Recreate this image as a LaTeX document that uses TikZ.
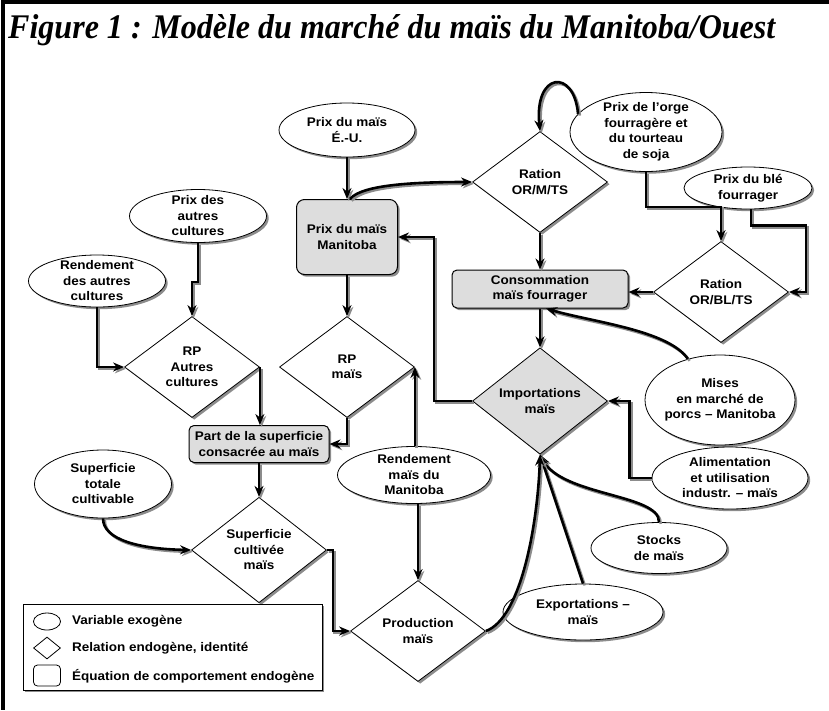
\documentclass[tikz,border=0pt]{standalone}
\usepackage{fontspec}
\newfontfamily\nodefont{Liberation Sans}[FakeStretch=1.08]
\newfontfamily\titlefont{Liberation Serif}
\usetikzlibrary{shapes.geometric, arrows.meta, shadows}
\definecolor{boxgray}{HTML}{DDDDDD}
\definecolor{shadgray}{HTML}{8C8C8C}
\tikzset{
 txt/.style={font=\nodefont\bfseries\fontsize{12.5}{15.5}\selectfont, align=center, inner sep=0pt},
 shad/.style={drop shadow={shadow xshift=2.2pt, shadow yshift=-2.2pt, fill=shadgray, opacity=1}},
 exo/.style={ellipse, draw, fill=white, line width=0.8pt, inner sep=0pt, shad},
 rel/.style={diamond, draw, fill=white, line width=0.8pt, inner sep=0pt, minimum width=135pt, minimum height=101pt, shad, txt},
 eqn/.style={rectangle, rounded corners=5pt, draw, fill=boxgray, line width=1pt, inner sep=0pt, shad, txt},
 conn/.style={line width=2.6pt, -{Stealth[length=11pt,width=9pt]},
   preaction={draw=shadgray, line width=2.6pt, transform canvas={shift={(1.8pt,-1.8pt)}}}},
 legtxt/.style={txt, anchor=west},
 frameline/.style={line width=4pt, draw=black},
}
\begin{document}
\begin{tikzpicture}[x=1pt, y=-1pt]
\useasboundingbox (0,0) rectangle (829,710);
% frame
\coordinate (fr1) at (829,2);
\coordinate (fr2) at (3,2);
\coordinate (fr3) at (3,710);
\draw[frameline] (fr1) -- (fr2) -- (fr3);
% title
\node[anchor=base west, inner sep=0pt] (title) at (8,38)
  {\resizebox{767pt}{24pt}{\titlefont\bfseries\itshape Figure 1 : Modèle du marché du maïs du Manitoba/Ouest}};

% exogenous variables
\node[exo, minimum width=136pt, minimum height=54pt, label={[txt]center:{Prix du maïs\\É.-U.}}] (usp) at (347,130) {};
\node[exo, minimum width=152pt, minimum height=79pt, label={[txt]center:{Prix de l’orge\\fourragère et\\du tourteau\\de soja}}] (orge) at (646,132) {};
\node[exo, minimum width=128pt, minimum height=42pt, label={[txt]center:{Prix du blé\\fourrager}}] (ble) at (748,188) {};
\node[exo, minimum width=137pt, minimum height=53pt, label={[txt]center:{Prix des\\autres\\cultures}}] (pac) at (198,216) {};
\node[exo, minimum width=137pt, minimum height=52pt, label={[txt]center:{Rendement\\des autres\\cultures}}] (rac) at (97,281) {};
\node[exo, minimum width=153pt, minimum height=57pt, label={[txt]center:{Rendement\\maïs du\\Manitoba}}] (rmm) at (414,475) {};
\node[exo, minimum width=137pt, minimum height=68pt, label={[txt]center:{Superficie\\totale\\cultivable}}] (stc) at (103,484) {};
\node[exo, minimum width=150pt, minimum height=90pt, label={[txt]center:{Mises\\en marché de\\porcs – Manitoba}}] (mises) at (720,400) {};
\node[exo, minimum width=156pt, minimum height=62pt, label={[txt]center:{Alimentation\\et utilisation\\industr. – maïs}}] (alim) at (730,478) {};
\node[exo, minimum width=136pt, minimum height=51pt, label={[txt]center:{Stocks\\de maïs}}] (stocks) at (659,548) {};
\node[exo, minimum width=160pt, minimum height=56pt, label={[txt]center:{Exportations –\\maïs}}] (expo) at (583,612) {};

% behavioural equations
\node[eqn, rounded corners=8pt, minimum width=101pt, minimum height=75pt] (pman) at (347,237) {Prix du maïs\\Manitoba};
\node[eqn, minimum width=176pt, minimum height=38pt] (cons) at (540,289) {Consommation\\maïs fourrager};
\node[eqn, minimum width=140pt, minimum height=37pt] (part) at (259,444) {Part de la superficie\\consacrée au maïs};

% identities
\node[rel] (rmts) at (540,182) {Ration\\OR/M/TS};
\node[rel] (rbts) at (721,292) {Ration\\OR/BL/TS};
\node[rel] (rpa) at (192,367) {RP\\Autres\\cultures};
\node[rel] (rpm) at (347,367) {RP\\maïs};
\node[rel, fill=boxgray] (imp) at (540,401) {Importations\\maïs};
\node[rel, minimum height=104pt] (sc) at (259,550) {Superficie\\cultivée\\maïs};
\node[rel] (prod) at (418,631) {Production\\maïs};

% connectors
\draw[conn] (usp.south) -- (pman.north);
\draw[conn] ([xshift=3pt]pman.north) .. controls (362,184) and (420,182) .. (rmts.west);
\draw[conn] (orge.165) .. controls (574,68) and (534,72) .. (rmts.north);
\draw[conn] (orge.south) -- ++(0,35) -| (rbts.north);
\draw[conn] ([xshift=3pt]ble.south) -- ++(0,16) -| ([xshift=17pt]rbts.east) -- (rbts.east);
\draw[conn] (rbts.west) -- (rbts.west -| cons.east);
\draw[conn] (rmts.south) -- (cons.north);
\draw[conn] (cons.south) -- (imp.north);
\draw[conn] (mises.128) .. controls (668,330) and (592,322) .. ([xshift=6pt]cons.south);
\draw[conn] (imp.west) -- ++(-38,0) |- (pman.east);
\draw[conn] (alim.west) -- ++(-22,0) |- (imp.east);
\draw[conn] (stocks.north) .. controls (660,494) and (562,496) .. (imp.south);
\draw[conn] (expo.north) -- (imp.south);
\draw[conn] (prod.east) .. controls (522,618) and (538,520) .. (imp.south);
\draw[conn] (rpa.east) -- (rpa.east |- part.north);
\draw[conn] (rpm.south) |- (part.east);
\draw[conn] (pman.south) -- (rpm.north);
\draw[conn] (pac.south) -- ++(0,39) -| (rpa.north);
\draw[conn] (rac.south) |- (rpa.west);
\draw[conn] (rpm.east |- rmm.north) -- (rpm.east);
\draw[conn] (prod.north |- rmm.south) -- (prod.north);
\draw[conn] (part.south) -- (sc.north);
\draw[conn] (stc.south) .. controls (103,540) and (140,549) .. (sc.west);
\draw[conn] (sc.east) -- ++(6,0) |- (prod.west);

% legend
\node[draw, fill=white, line width=0.8pt, shad, minimum width=299pt, minimum height=86pt, inner sep=0pt] (leg) at (172.5,647) {};
\node[ellipse, draw, fill=white, line width=0.8pt, inner sep=0pt, minimum width=27pt, minimum height=17pt] (lege) at (47,621.5) {};
\node[diamond, draw, fill=white, line width=0.8pt, inner sep=0pt, minimum width=27pt, minimum height=22pt] (legd) at (47,648) {};
\node[rectangle, rounded corners=4pt, draw, fill=white, line width=0.8pt, inner sep=0pt, minimum width=27pt, minimum height=21pt] (legr) at (47,675.5) {};
\node[legtxt] (legte) at (72,621) {Variable exogène};
\node[legtxt] (legtd) at (72,648) {Relation endogène, identité};
\node[legtxt] (legtr) at (72,676) {Équation de comportement endogène};
\end{tikzpicture}
\end{document}
